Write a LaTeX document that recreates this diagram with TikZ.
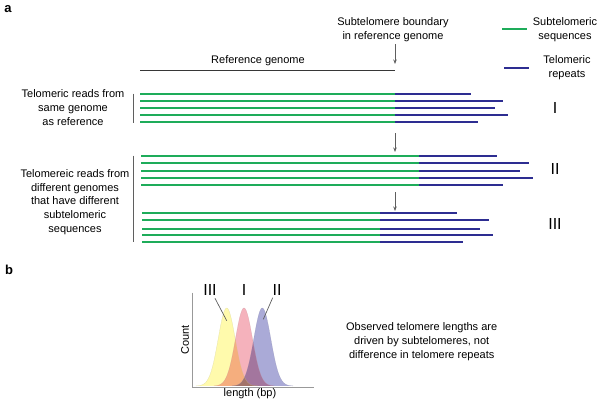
\documentclass[tikz,border=0pt]{standalone}
\usepackage{fontspec}
\setmainfont{Liberation Sans}
\usetikzlibrary{arrows.meta}
\definecolor{grn}{RGB}{30,172,90}
\definecolor{blu}{RGB}{45,45,145}
\definecolor{refc}{RGB}{55,55,55}
\definecolor{gry}{RGB}{95,95,95}
\definecolor{cyel}{RGB}{255,250,172}
\definecolor{cpink}{RGB}{245,178,188}
\definecolor{clav}{RGB}{170,170,215}
\tikzset{
  txt/.style={font=\fontsize{11}{13.6}\selectfont, align=center, inner sep=0pt},
  roman/.style={font=\fontsize{16}{18}\selectfont, inner sep=0pt},
  panel/.style={font=\fontsize{13}{15}\selectfont\bfseries, inner sep=0pt},
  greenline/.style={draw=grn, line width=1.9pt},
  blueline/.style={draw=blu, line width=1.9pt},
  refline/.style={draw=refc, line width=1.6pt},
  bracket/.style={draw=gry, line width=0.8pt},
  pointer/.style={draw=gry, line width=0.7pt, -{Stealth[length=4.5pt,width=3.5pt]}},
  leader/.style={draw=gry, line width=0.7pt},
  axis/.style={draw=gray!80, line width=1pt},
}
\begin{document}
\begin{tikzpicture}[x=1pt,y=-1pt]
\useasboundingbox (0,0) rectangle (600,400);
% panel labels
\node[panel] (pa) at (8,9) {a};
\node[panel] (pb) at (9,270) {b};
% reference genome
\coordinate (r0) at (140,70.5);
\coordinate (r1) at (395,70.5);
\draw[refline] (r0) -- (r1);
\node[txt] (reftxt) at (258,60.5) {Reference genome};
\node[txt] (bnd) at (393,29.5) {Subtelomere boundary\\in reference genome};
\coordinate (a1s) at (395,44);
\coordinate (a1e) at (395,64);
\draw[pointer] (a1s) -- (a1e);
% legend
\coordinate (lg0) at (502,29);
\coordinate (lg1) at (527,29);
\draw[greenline] (lg0) -- (lg1);
\node[txt] (lgt) at (565,29.5) {Subtelomeric\\sequences};
\coordinate (lb0) at (504,68);
\coordinate (lb1) at (529,68);
\draw[blueline] (lb0) -- (lb1);
\node[txt] (lbt) at (567,67.5) {Telomeric\\repeats};
% group I
\foreach \y/\e in {94/471, 101/503, 108/495, 115/508, 122/478}{
  \draw[greenline] (140,\y) -- (395,\y);
  \draw[blueline] (395,\y) -- (\e,\y);
}
\node[roman] (gI) at (555,108) {I};
\coordinate (b1t) at (133,93.5);
\coordinate (b1b) at (133,122.5);
\draw[bracket] (b1t) -- (b1b);
\node[txt] (t1) at (73,107.5) {Telomeric reads from\\same genome\\as reference};
\coordinate (a2s) at (395,133);
\coordinate (a2e) at (395,152);
\draw[pointer] (a2s) -- (a2e);
% group II
\foreach \y/\e in {156/497, 163.3/529, 171/520, 178/533, 184.7/503}{
  \draw[greenline] (141,\y) -- (419,\y);
  \draw[blueline] (419,\y) -- (\e,\y);
}
\node[roman] (gII) at (555,169) {II};
\coordinate (a3s) at (395,192);
\coordinate (a3e) at (395,211);
\draw[pointer] (a3s) -- (a3e);
% group III
\foreach \y/\e in {213.3/457, 220.3/489, 228.7/480, 235.3/493, 242/463}{
  \draw[greenline] (142,\y) -- (380,\y);
  \draw[blueline] (380,\y) -- (\e,\y);
}
\node[roman] (gIII) at (555,224) {III};
\coordinate (b2t) at (133.3,155.5);
\coordinate (b2b) at (133.3,242);
\draw[bracket] (b2t) -- (b2b);
\node[txt] (t2) at (75,202) {Telomereic reads from\\different genomes\\that have different\\subtelomeric\\sequences};
% panel b plot
\begin{scope}[blend group=multiply]
\fill[cyel] plot[domain=196:258, samples=80] (\x, {386 - 78*exp(-((\x-226.7)^2)/144.5)}) -- cycle;
\fill[cpink] plot[domain=214:274, samples=80] (\x, {386 - 78*exp(-((\x-244)^2)/144.5)}) -- cycle;
\fill[clav] plot[domain=232:293, samples=80] (\x, {386 - 78*exp(-((\x-262.3)^2)/144.5)}) -- cycle;
\end{scope}
\draw[cyel!80!black, line width=0.3pt, opacity=0.5] plot[domain=196:258, samples=80] (\x, {386 - 78*exp(-((\x-226.7)^2)/144.5)});
\draw[cpink!80!black, line width=0.3pt, opacity=0.5] plot[domain=214:274, samples=80] (\x, {386 - 78*exp(-((\x-244)^2)/144.5)});
\draw[clav!80!black, line width=0.3pt, opacity=0.5] plot[domain=232:293, samples=80] (\x, {386 - 78*exp(-((\x-262.3)^2)/144.5)});
\coordinate (ax0) at (192.7,292.7);
\coordinate (ax1) at (192.7,387);
\coordinate (ax2) at (314.3,387);
\draw[axis] (ax0) -- (ax1) -- (ax2);
\node[txt, rotate=90] (cnt) at (185,340) {Count};
\node[txt, anchor=base] (len) at (250,396.8) {length (bp)};
\node[roman] (pIII) at (210,290) {III};
\node[roman] (pI) at (244,290) {I};
\node[roman] (pII) at (277,290) {II};
\coordinate (l3s) at (215,298.3);
\coordinate (l3e) at (226.7,320.7);
\draw[leader] (l3s) -- (l3e);
\coordinate (l2s) at (272.7,297.7);
\coordinate (l2e) at (263.3,319.3);
\draw[leader] (l2s) -- (l2e);
\node[txt] (obs) at (421.7,341.7) {Observed telomere lengths are\\driven by subtelomeres, not\\difference in telomere repeats};
\end{tikzpicture}
\end{document}
